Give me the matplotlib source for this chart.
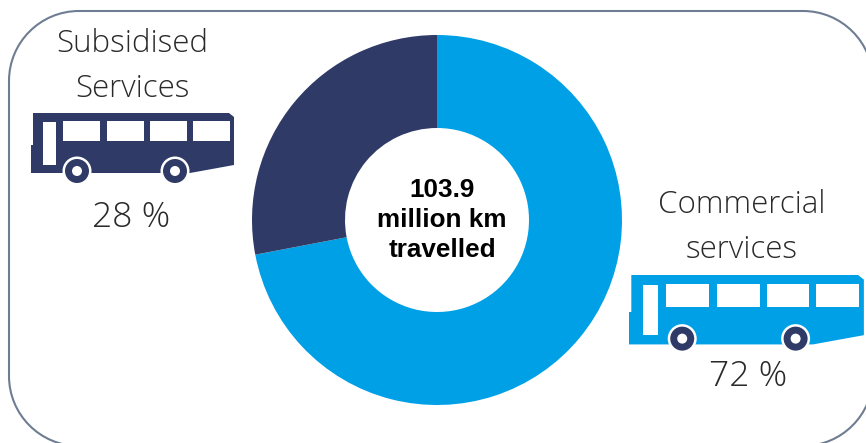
import matplotlib
matplotlib.use("Agg")
import matplotlib.pyplot as plt
from matplotlib.patches import Circle, PathPatch, Polygon, Rectangle
from matplotlib.path import Path

W, H = 866, 443

categories = ["Commercial\nservices", "Subsidised\nServices"]
shares = [72, 28]
share_labels = ["72 %", "28 %"]
centre_label = "103.9\nmillion km\ntravelled"

DARK = "#2f3b66"
BLUE = "#00a0e6"
TEXT = "#2a2a2a"

plt.rcParams["font.family"] = ["Open Sans", "DejaVu Sans"]


def py(y):
    # pixel rows count down from the top edge
    return H - y


def rounded_frame(x0, y0, x1, y1, r):
    # closed rounded rectangle built from cubic corners
    k = 0.5523 * r
    verts = [
        (x0 + r, y0), (x1 - r, y0),
        (x1 - r + k, y0), (x1, y0 + r - k), (x1, y0 + r),
        (x1, y1 - r),
        (x1, y1 - r + k), (x1 - r + k, y1), (x1 - r, y1),
        (x0 + r, y1),
        (x0 + r - k, y1), (x0, y1 - r + k), (x0, y1 - r),
        (x0, y0 + r),
        (x0, y0 + r - k), (x0 + r - k, y0), (x0 + r, y0),
    ]
    codes = [Path.MOVETO, Path.LINETO,
             Path.CURVE4, Path.CURVE4, Path.CURVE4, Path.LINETO,
             Path.CURVE4, Path.CURVE4, Path.CURVE4, Path.LINETO,
             Path.CURVE4, Path.CURVE4, Path.CURVE4, Path.LINETO,
             Path.CURVE4, Path.CURVE4, Path.CURVE4]
    return Path([(x, py(y)) for x, y in verts], codes)


def draw_bus(ax, left, top, scale, body, wheel, wheel_y):
    # outline of the bus, in units of a 203 x 60 pictogram
    outline = [(2, 0), (198, 0), (203, 4), (203, 52), (159, 60), (0, 60), (0, 32), (2, 32)]
    pts = [(left + x * scale, py(top + y * scale)) for x, y in outline]
    ax.add_patch(Polygon(pts, closed=True, fc=body, ec="none", zorder=3))

    # door
    ax.add_patch(Rectangle((left + 12 * scale, py(top + 52 * scale)), 13 * scale, 43 * scale,
                           fc="white", ec="none", zorder=4))
    # windows
    for x0 in (32, 76, 119, 162):
        ax.add_patch(Rectangle((left + x0 * scale, py(top + 28 * scale)), 37 * scale, 20 * scale,
                               fc="white", ec="none", zorder=4))
    # wheels
    for cx in (46, 144):
        c = (left + cx * scale, py(top + wheel_y * scale))
        ax.add_patch(Circle(c, 14.5, fc="white", ec="none", zorder=5))
        ax.add_patch(Circle(c, 12, fc=wheel, ec="none", zorder=6))
        ax.add_patch(Circle(c, 5, fc="white", ec="none", zorder=7))


fig = plt.figure(figsize=(W / 100, H / 100), dpi=100)
ax = fig.add_axes([0, 0, 1, 1])

ax.pie(shares, colors=[BLUE, DARK], startangle=90, counterclock=False,
       center=(437, py(220)), radius=185,
       wedgeprops=dict(width=93, linewidth=0, zorder=2), frame=True)
ax.set_xlim(0, W)
ax.set_ylim(0, H)
ax.axis("off")

# frame runs off the right and bottom edges; the white face keeps agg from clipping its curves
ax.add_patch(PathPatch(rounded_frame(9, 11, 873, 446, 70), fc="white", ec="#6f7d92", lw=1.5, zorder=1))

ax.text(442, py(220), centre_label, ha="center", va="center", fontsize=18.8,
        fontweight="bold", family=["Liberation Sans"], color="black",
        linespacing=1.3, zorder=8)

ax.text(132, py(44), "Subsidised", ha="center", va="center", fontsize=22.5, fontweight="light", color=TEXT)
ax.text(132, py(89), "Services", ha="center", va="center", fontsize=22.5, fontweight="light", color=TEXT)
ax.text(131, py(218), share_labels[1], ha="center", va="center", fontsize=25.5, fontweight="light", color=TEXT)

ax.text(742, py(205), "Commercial", ha="center", va="center", fontsize=22.5, fontweight="light", color=TEXT)
ax.text(742, py(250), "services", ha="center", va="center", fontsize=22.5, fontweight="light", color=TEXT)
ax.text(748, py(377), share_labels[0], ha="center", va="center", fontsize=25.5, fontweight="light", color=TEXT)

draw_bus(ax, 31, 113, 1.0, DARK, DARK, 58)
draw_bus(ax, 629, 275, 1.157, BLUE, DARK, 55)

fig.savefig("out.png", dpi=100)
